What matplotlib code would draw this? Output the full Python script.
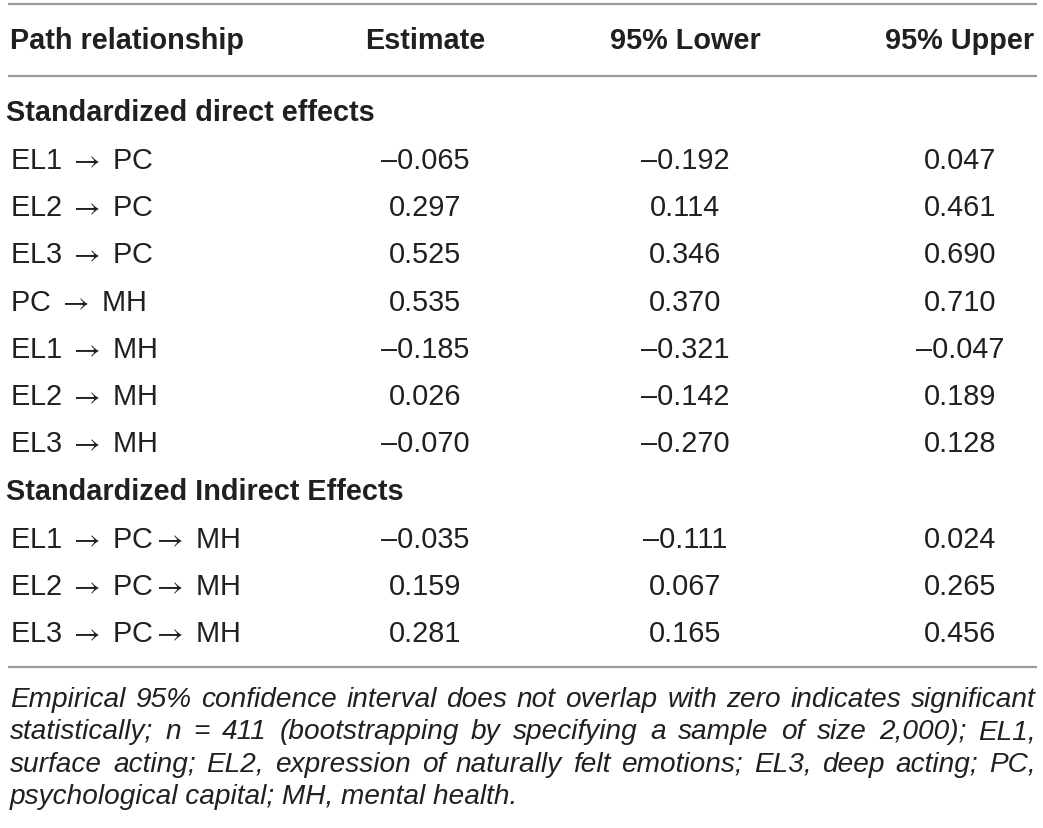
import matplotlib.pyplot as plt

plt.rcParams['font.family'] = ['Liberation Sans', 'DejaVu Sans']
plt.rcParams['mathtext.fontset'] = 'stix'

headers = ["Path relationship", "Estimate", "95% Lower", "95% Upper"]
sections = ["Standardized direct effects", "Standardized Indirect Effects"]

ARR = r"$\rightarrow$"
direct_paths = [f"EL1 {ARR} PC", f"EL2 {ARR} PC", f"EL3 {ARR} PC", f"PC {ARR} MH",
                f"EL1 {ARR} MH", f"EL2 {ARR} MH", f"EL3 {ARR} MH"]
direct_est = [-0.065, 0.297, 0.525, 0.535, -0.185, 0.026, -0.070]
direct_low = [-0.192, 0.114, 0.346, 0.370, -0.321, -0.142, -0.270]
direct_up = [0.047, 0.461, 0.690, 0.710, -0.047, 0.189, 0.128]

indirect_paths = [f"EL1 {ARR} PC{ARR} MH", f"EL2 {ARR} PC{ARR} MH", f"EL3 {ARR} PC{ARR} MH"]
indirect_est = [-0.035, 0.159, 0.281]
indirect_low = [-0.111, 0.067, 0.165]
indirect_up = [0.024, 0.265, 0.456]

foot_lines = [
    "Empirical 95% confidence interval does not overlap with zero indicates significant",
    "statistically; n = 411 (bootstrapping by specifying a sample of size 2,000); EL1,",
    "surface acting; EL2, expression of naturally felt emotions; EL3, deep acting; PC,",
    "psychological capital; MH, mental health.",
]

TXT = '#231f20'
LINE = '#9a9a9a'
FS = 20.8
W, H = 1043, 829


def fmt(v):
    return f"{v:.3f}".replace('-', '\u2013')


fig = plt.figure(figsize=(W / 100, H / 100), dpi=100)
ax = fig.add_axes([0, 0, 1, 1])
ax.set_xlim(0, W)
ax.set_ylim(H, 0)
ax.axis('off')

col_x = [10, 425, 685, 960]

# rules
for y in (5, 77, 668):
    ax.plot([8, 1037], [y, y], color=LINE, lw=1.6, solid_capstyle='butt')

# header
ax.text(col_x[0], 41, headers[0], fontsize=FS, fontweight='bold', color=TXT, va='center', ha='left')
for x, h in zip(col_x[1:], headers[1:]):
    ax.text(x, 41, h, fontsize=FS, fontweight='bold', color=TXT, va='center', ha='center')


def draw_rows(y0, paths, est, low, up):
    for i, p in enumerate(paths):
        y = y0 + i * 47.2
        ax.text(col_x[0], y, p, fontsize=FS, color=TXT, va='center_baseline', ha='left')
        for x, v in zip(col_x[1:], (est[i], low[i], up[i])):
            ax.text(x, y, fmt(v), fontsize=FS, color=TXT, va='center_baseline', ha='center')


ax.text(6, 113, sections[0], fontsize=FS, fontweight='bold', color=TXT, va='center', ha='left')
draw_rows(158, direct_paths, direct_est, direct_low, direct_up)
ax.text(6, 492, sections[1], fontsize=FS, fontweight='bold', color=TXT, va='center', ha='left')
draw_rows(537, indirect_paths, indirect_est, indirect_low, indirect_up)

# justified italic footnote
renderer = fig.canvas.get_renderer()
foot_kw = dict(fontsize=20.2, style='italic', color=TXT, va='baseline', ha='left')
left, right = 10, 1036
for li, line in enumerate(foot_lines):
    y = 707 + li * 32.4
    words = line.split(' ')
    if li == len(foot_lines) - 1:
        ax.text(left, y, line, **foot_kw)
        continue
    arts = [ax.text(0, y, w, **foot_kw) for w in words]
    widths = [a.get_window_extent(renderer).width for a in arts]
    gap = (right - left - sum(widths)) / (len(words) - 1)
    x = left
    for a, wd in zip(arts, widths):
        a.set_x(x)
        x += wd + gap

fig.savefig('out.png', dpi=100)
